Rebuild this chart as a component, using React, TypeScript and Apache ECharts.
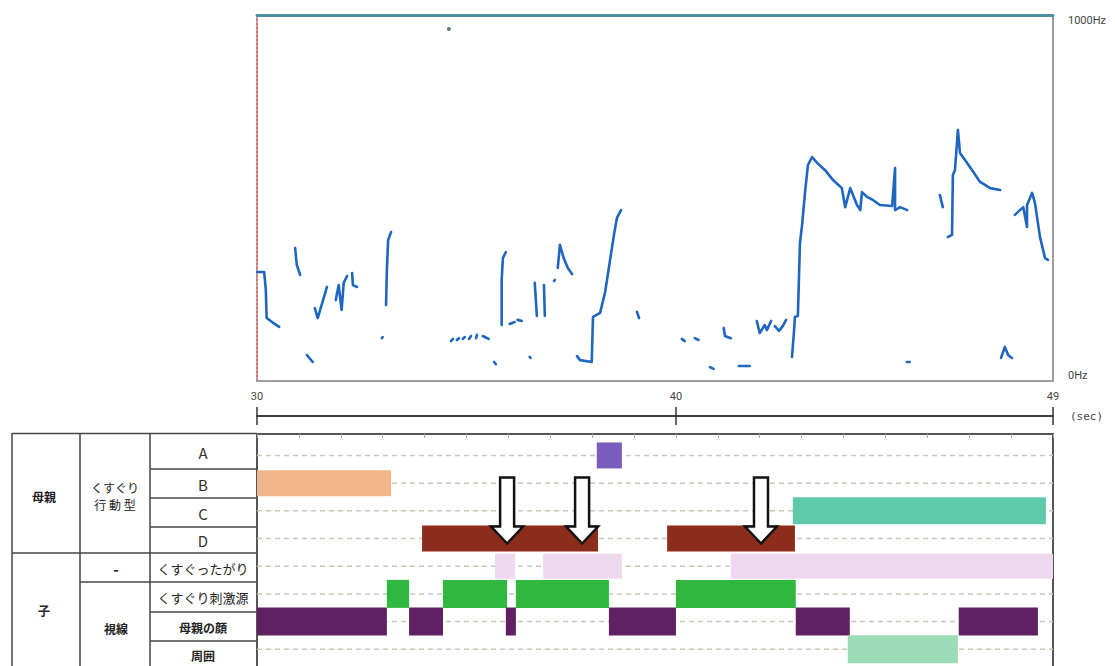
import React, { useEffect, useRef } from "react";
import * as echarts from "echarts";

// ---------- axes ----------
const T_MIN = 30;
const T_MAX = 49;
const timeTicks = [30, 40, 49];
const freqTicks = [0, 1000];

// ---------- pitch trace (sec, Hz) ----------
const s01 = [[30.0, 298], [30.17, 298], [30.21, 250], [30.23, 172], [30.36, 161], [30.53, 148]];
const s02 = [[30.91, 363], [30.95, 317], [31.03, 290]];
const s03 = [[31.38, 199], [31.45, 172], [31.67, 257]];
const s04 = [[31.88, 221], [31.95, 262], [32.02, 194], [32.07, 268], [32.15, 287]];
const s05 = [[32.27, 295], [32.29, 262], [32.39, 257]];
const s06 = [[33.2, 407], [33.13, 385], [33.1, 303], [33.08, 208]];
const s07 = [[32.98, 117], [33.0, 120]];
const s08 = [[31.19, 71], [31.33, 52]];
const s09 = [[34.63, 109], [34.68, 115]];
const s10 = [[34.77, 112], [34.82, 117]];
const s11 = [[34.91, 115], [34.96, 120]];
const s12 = [[35.06, 115], [35.11, 123]];
const s13 = [[35.23, 117], [35.25, 126]];
const s14 = [[35.39, 123], [35.53, 115]];
const s15 = [[35.66, 52], [35.7, 46]];
const s16 = [[35.94, 352], [35.87, 336], [35.84, 276], [35.84, 153]];
const s17 = [[36.03, 156], [36.15, 161]];
const s18 = [[36.22, 167], [36.32, 164]];
const s19 = [[36.63, 268], [36.68, 178]];
const s20 = [[36.85, 262], [36.87, 178]];
const s21 = [[37.09, 273], [37.11, 276]];
const s22 = [[37.18, 309], [37.23, 372], [37.32, 336], [37.42, 309], [37.52, 292]];
const s23 = [[36.51, 66], [36.53, 63]];
const s24 = [[37.64, 68], [37.71, 57], [37.99, 52], [38.02, 175], [38.19, 186], [38.31, 243], [38.42, 325], [38.52, 399], [38.59, 445], [38.69, 467]];
const s25 = [[39.07, 189], [39.12, 172]];
const s26 = [[40.14, 115], [40.21, 109]];
const s27 = [[40.45, 117], [40.54, 112]];
const s28 = [[41.14, 145], [41.17, 123], [41.31, 117]];
const s29 = [[41.93, 164], [42.0, 131], [42.12, 153], [42.17, 139], [42.27, 164]];
const s30 = [[42.36, 150], [42.46, 137], [42.55, 150], [42.63, 167]];
const s31 = [[40.81, 38], [40.9, 33]];
const s32 = [[41.5, 41], [41.76, 41]];
const s33 = [[42.77, 66], [42.82, 139], [42.84, 175], [42.91, 178], [42.96, 377], [43.01, 426], [43.08, 514], [43.15, 590], [43.25, 612], [43.37, 596], [43.56, 576], [43.75, 549], [43.96, 527], [44.04, 475], [44.16, 527], [44.32, 481], [44.4, 467], [44.44, 516], [44.56, 503], [44.71, 494], [44.87, 481], [45.16, 478], [45.23, 582], [45.23, 467], [45.35, 475], [45.52, 467]];
const s34 = [[46.3, 508], [46.37, 475]];
const s35 = [[46.49, 393], [46.59, 399], [46.61, 563], [46.66, 576], [46.73, 686], [46.78, 623], [46.9, 604], [47.07, 576], [47.26, 544], [47.5, 527], [47.74, 522]];
const s36 = [[48.09, 454], [48.29, 475], [48.38, 421], [48.38, 481], [48.5, 514], [48.57, 486], [48.69, 393], [48.81, 336], [48.88, 331]];
const s37 = [[45.51, 52], [45.58, 52]];
const s38 = [[47.76, 63], [47.85, 93], [47.93, 71], [48.02, 63]];
const traceSegments = [s01, s02, s03, s04, s05, s06, s07, s08, s09, s10, s11, s12, s13, s14, s15, s16, s17, s18, s19, s20, s21, s22, s23, s24, s25, s26, s27, s28, s29, s30, s31, s32, s33, s34, s35, s36, s37, s38];
const strayPoints = [[34.58, 962]];

// ---------- behaviour coding rows (start sec, end sec) ----------
const rowA = [[38.11, 38.71]];
const rowB = [[30.0, 33.2]];
const rowC = [[42.79, 48.83]];
const rowD = [[33.94, 38.14], [39.79, 42.84]];
const rowTicklish = [[35.68, 36.16], [36.83, 38.71], [41.31, 49.0]];
const rowSource = [[33.1, 33.63], [34.44, 35.97], [36.18, 38.4], [40.0, 42.86]];
const rowFace = [[30.0, 33.1], [33.63, 34.44], [35.94, 36.18], [38.4, 40.0], [42.86, 44.15], [46.75, 48.64]];
const rowSurround = [[44.1, 46.73]];
const rows = [rowA, rowB, rowC, rowD, rowTicklish, rowSource, rowFace, rowSurround];
const rowColors = ["#7d5cbf", "#f2b68c", "#5ecaa9", "#8c2d1c", "#efd8ef", "#2fb83d", "#5f2161", "#9bdcb6"];
const rowHeights = [26, 26, 27, 26, 25, 28, 28, 28];
const arrowTimes = [35.97, 37.76, 42.03];
const arrowRow = 3;

// ---------- table labels ----------
const groupLabels = ["母親", "子"];
const subLabelTop = ["くすぐり", "行 動 型"];
const subLabelDash = "-";
const subLabelGaze = "視線";
const rowLabels = ["A", "B", "C", "D", "くすぐったがり", "くすぐり刺激源", "母親の顔", "周囲"];

const JP = "'Noto Sans CJK JP', 'Noto Sans', sans-serif";

export default function App() {
  const ref = useRef<HTMLDivElement>(null);
  useEffect(() => {
    if (!ref.current) return;
    const chart = echarts.init(ref.current, undefined, { renderer: "svg" });

    const traceSeries = traceSegments.map((seg) => ({
      type: "line",
      xAxisIndex: 0,
      yAxisIndex: 0,
      data: seg,
      showSymbol: false,
      silent: true,
      lineStyle: { color: "#1f66c0", width: 2.6, cap: "round", join: "round" },
      z: 3,
    }));

    const barData: number[][] = [];
    rows.forEach((r, i) => r.forEach(([s, e]) => barData.push([i, s, e])));

    const lineColor = "#454545";
    const tableLines: any[] = [];
    const hl = (x1: number, y: number, x2: number) =>
      tableLines.push({ type: "line", shape: { x1, y1: y, x2, y2: y }, style: { stroke: lineColor, lineWidth: 1.5 }, silent: true });
    const vl = (x: number, y1: number, y2: number) =>
      tableLines.push({ type: "line", shape: { x1: x, y1, x2: x, y2 }, style: { stroke: lineColor, lineWidth: 1.5 }, silent: true });
    hl(12, 433.5, 257);
    vl(12, 433, 670);
    vl(80, 433, 670);
    vl(150, 433, 670);
    hl(12, 553, 257);
    hl(80, 582, 257);
    [469, 498, 527, 612, 641].forEach((y) => hl(150, y, 257));

    const txt = (text: string, x: number, y: number, size: number, weight: any = "normal", color = "#222") => ({
      type: "text",
      silent: true,
      style: { text, x, y, align: "center", verticalAlign: "middle", fontSize: size, fontWeight: weight, fontFamily: JP, fill: color },
    });
    const rowLabelY = [452, 484, 513, 540, 568, 597, 627, 655];
    const tableTexts = [
      txt(groupLabels[0], 44, 496, 12, "bold"),
      txt(groupLabels[1], 44, 610, 12, "bold"),
      txt(subLabelTop[0], 115, 487, 12),
      txt(subLabelTop[1], 115, 504, 12),
      txt(subLabelDash, 116, 568, 15, "bold"),
      txt(subLabelGaze, 116, 628, 12, "bold"),
      ...rowLabels.map((l, i) =>
        i < 4 ? txt(l, 203, rowLabelY[i], 15, "normal", "#333") : txt(l, 203, rowLabelY[i], i >= 6 ? 12 : 13, i >= 6 ? "bold" : "normal")
      ),
    ];

    const hiddenAxis = { axisTick: { show: false }, axisLabel: { show: false }, splitLine: { show: false } };

    const option: any = {
      animation: false,
      backgroundColor: "#ffffff",
      grid: [
        { left: 257, top: 15, width: 796, height: 366 },
        { left: 257, top: 416, width: 796, height: 0 },
        { left: 257, top: 434, width: 796, height: 238 },
      ],
      xAxis: [
        { ...hiddenAxis, type: "value", gridIndex: 0, position: "bottom", min: T_MIN, max: T_MAX,
          axisLine: { show: true, onZero: false, lineStyle: { color: "#9c9c9c", width: 2 } } },
        { ...hiddenAxis, type: "value", gridIndex: 0, position: "top", min: T_MIN, max: T_MAX,
          axisLine: { show: true, onZero: false, lineStyle: { color: "#4b93a2", width: 3 } } },
        { type: "value", gridIndex: 1, position: "top", min: T_MIN, max: T_MAX,
          splitLine: { show: false },
          axisLine: { show: true, onZero: false, lineStyle: { color: "#333", width: 1.5 } },
          axisTick: { show: true, customValues: timeTicks, length: 9, lineStyle: { color: "#333", width: 1.5 } },
          axisLabel: { show: true, customValues: timeTicks, margin: 14, fontSize: 11, color: "#444", fontFamily: "Roboto, sans-serif" } },
        { type: "value", gridIndex: 1, position: "bottom", min: T_MIN, max: T_MAX,
          splitLine: { show: false }, axisLabel: { show: false },
          axisLine: { show: true, onZero: false, lineStyle: { color: "#333", width: 1.5 } },
          axisTick: { show: true, customValues: timeTicks, length: 9, lineStyle: { color: "#333", width: 1.5 } },
          name: "(sec)", nameLocation: "end", nameGap: 17,
          nameTextStyle: { fontSize: 11, color: "#444", fontFamily: "'DejaVu Sans Mono', monospace" } },
        { type: "value", gridIndex: 2, position: "top", min: T_MIN, max: T_MAX, interval: 1,
          splitLine: { show: false }, axisLabel: { show: false },
          axisLine: { show: true, onZero: false, lineStyle: { color: "#555", width: 2 } },
          axisTick: { show: true, inside: true, length: 4, lineStyle: { color: "#aaa", width: 1 } } },
      ],
      yAxis: [
        { ...hiddenAxis, type: "value", gridIndex: 0, position: "left", min: 0, max: 1000,
          axisLine: { show: true, onZero: false, lineStyle: { color: "#c97a7a", width: 2, type: "dotted" } } },
        { type: "value", gridIndex: 0, position: "right", min: 0, max: 1000,
          splitLine: { show: false }, axisTick: { show: false },
          axisLine: { show: true, onZero: false, lineStyle: { color: "#9c9c9c", width: 2 } },
          axisLabel: { show: true, customValues: freqTicks, formatter: (v: number) => `${v}Hz`, margin: 15, fontSize: 11,
            color: "#444", fontFamily: "Roboto, sans-serif", verticalAlignMinLabel: "bottom", verticalAlignMaxLabel: "top" } },
        { ...hiddenAxis, type: "value", gridIndex: 1, show: false },
        { ...hiddenAxis, type: "value", gridIndex: 2, position: "left", inverse: true, min: -0.775, max: 7.605,
          axisLine: { show: true, onZero: false, lineStyle: { color: "#555", width: 2 } } },
        { ...hiddenAxis, type: "value", gridIndex: 2, position: "right", inverse: true, min: -0.775, max: 7.605,
          axisLine: { show: true, onZero: false, lineStyle: { color: "#555", width: 2 } } },
      ],
      graphic: [...tableLines, ...tableTexts],
      series: [
        ...traceSeries,
        { type: "scatter", xAxisIndex: 0, yAxisIndex: 0, data: strayPoints, symbolSize: 4, itemStyle: { color: "#35546a" }, silent: true },
        {
          type: "custom", xAxisIndex: 4, yAxisIndex: 3, silent: true, z: 1,
          data: rows.map((_, i) => [T_MIN, i, T_MAX]),
          encode: { x: [0, 2], y: 1 },
          renderItem: (params: any, api: any) => {
            const p1 = api.coord([api.value(0), api.value(1)]);
            const p2 = api.coord([api.value(2), api.value(1)]);
            return { type: "line", shape: { x1: p1[0], y1: p1[1], x2: p2[0], y2: p2[1] },
              style: { stroke: "#cdc6b6", lineWidth: 1.5, lineDash: [5, 4] } };
          },
        },
        {
          type: "custom", xAxisIndex: 4, yAxisIndex: 3, silent: true, z: 2,
          data: barData,
          encode: { x: [1, 2], y: 0 },
          renderItem: (params: any, api: any) => {
            const r = api.value(0);
            const p1 = api.coord([api.value(1), r]);
            const p2 = api.coord([api.value(2), r]);
            const h = rowHeights[r];
            return { type: "rect", shape: { x: p1[0], y: p1[1] - h / 2, width: p2[0] - p1[0], height: h },
              style: { fill: rowColors[r] } };
          },
        },
        {
          type: "custom", xAxisIndex: 4, yAxisIndex: 3, silent: true, z: 3,
          data: arrowTimes.map((t) => [t, arrowRow]),
          encode: { x: 0, y: 1 },
          renderItem: (params: any, api: any) => {
            const p = api.coord([api.value(0), api.value(1)]);
            const x = p[0], y = p[1];
            return {
              type: "polygon",
              shape: { points: [[x - 7, y - 61], [x + 7, y - 61], [x + 7, y - 12], [x + 16, y - 12], [x, y + 5], [x - 16, y - 12], [x - 7, y - 12]] },
              style: { fill: "#ffffff", stroke: "#111", lineWidth: 2.5, lineJoin: "miter" },
            };
          },
        },
      ],
    };
    chart.setOption(option);
    return () => chart.dispose();
  }, []);
  return <div ref={ref} style={{ position: "absolute", left: 0, top: 0, width: 1115, height: 666, background: "#fff" }} />;
}
